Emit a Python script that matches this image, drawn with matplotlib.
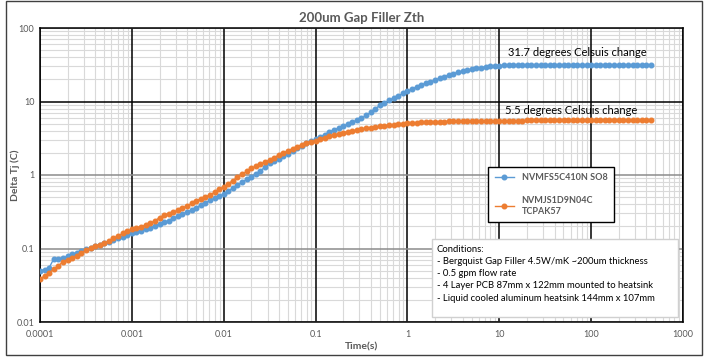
import matplotlib
matplotlib.use("Agg")
import matplotlib.pyplot as plt
from matplotlib.patches import Rectangle
from matplotlib.ticker import LogLocator, NullFormatter

plt.rcParams['font.family'] = ['Lato', 'DejaVu Sans']

# time samples: 20 per decade from 1e-4 s up to ~450 s
mantissa = [1.0, 1.12, 1.26, 1.41, 1.58, 1.78, 2.0, 2.24, 2.51, 2.82,
            3.16, 3.55, 3.98, 4.47, 5.01, 5.62, 6.31, 7.08, 7.94, 8.91]
time_s = [m * 10.0 ** e for e in range(-4, 3) for m in mantissa][:134]

# NVMFS5C410N SO8 (blue)
so8 = [0.050, 0.051, 0.055, 0.072, 0.073, 0.075, 0.078, 0.083, 0.088, 0.092,
       0.097, 0.102, 0.107, 0.112, 0.118, 0.124, 0.130, 0.137, 0.145, 0.152,
       0.160, 0.168, 0.175, 0.183, 0.192, 0.203, 0.215, 0.227, 0.240, 0.257,
       0.275, 0.293, 0.313, 0.335, 0.360, 0.388, 0.418, 0.450, 0.482, 0.515,
       0.550, 0.605, 0.665, 0.73, 0.80, 0.875, 0.95, 1.03, 1.14, 1.28,
       1.44, 1.55, 1.67, 1.80, 1.93, 2.1, 2.3, 2.5, 2.7, 2.88,
       3.06, 3.3, 3.55, 3.85, 4.1, 4.35, 4.6, 4.9, 5.2, 5.55,
       5.9, 6.5, 7.1, 7.9, 8.9, 9.6, 10.4, 11.2, 12.0, 12.9,
       13.8, 14.8, 15.8, 16.8, 17.7, 18.6, 19.5, 20.7, 21.8, 22.9,
       24.0, 24.9, 25.8, 26.7, 27.5, 28.3, 29.0, 29.6, 30.1, 30.5,
       30.8, 31.0, 31.2, 31.3, 31.4, 31.5, 31.5, 31.6, 31.6, 31.6,
       31.6, 31.6, 31.7, 31.7, 31.7, 31.7, 31.7, 31.7, 31.7, 31.7,
       31.7, 31.7, 31.7, 31.7, 31.7, 31.7, 31.7, 31.7, 31.7, 31.7,
       31.7, 31.7, 31.7, 31.7]

# NVMJS1D9N04C TCPAK57 (orange)
tcpak = [0.039, 0.042, 0.047, 0.052, 0.058, 0.066, 0.070, 0.074, 0.080, 0.087,
         0.094, 0.101, 0.108, 0.113, 0.118, 0.127, 0.138, 0.149, 0.160, 0.171,
         0.182, 0.190, 0.199, 0.208, 0.220, 0.238, 0.262, 0.285, 0.298, 0.312,
         0.330, 0.354, 0.380, 0.410, 0.445, 0.475, 0.505, 0.535, 0.58, 0.635,
         0.69, 0.76, 0.84, 0.93, 1.02, 1.12, 1.23, 1.32, 1.41, 1.50,
         1.60, 1.73, 1.87, 2.0, 2.14, 2.28, 2.43, 2.58, 2.75, 2.84,
         2.93, 3.06, 3.2, 3.35, 3.5, 3.64, 3.77, 3.88, 3.98, 4.09,
         4.2, 4.3, 4.4, 4.5, 4.6, 4.68, 4.76, 4.84, 4.91, 4.98,
         5.05, 5.1, 5.14, 5.18, 5.22, 5.26, 5.29, 5.32, 5.34, 5.36,
         5.38, 5.40, 5.42, 5.43, 5.44, 5.45, 5.46, 5.47, 5.48, 5.49,
         5.5, 5.5, 5.5, 5.5, 5.5, 5.5, 5.52, 5.52, 5.52, 5.52,
         5.52, 5.52, 5.52, 5.52, 5.52, 5.52, 5.52, 5.52, 5.52, 5.52,
         5.52, 5.52, 5.52, 5.52, 5.52, 5.52, 5.52, 5.52, 5.52, 5.52,
         5.52, 5.52, 5.52, 5.52]

label_so8 = "NVMFS5C410N SO8"
label_tcpak = "NVMJS1D9N04C\nTCPAK57"
conditions = ("Conditions:\n"
              "- Bergquist Gap Filler 4.5W/mK ~200um thickness\n"
              "- 0.5 gpm flow rate\n"
              "- 4 Layer PCB 87mm x 122mm mounted to heatsink\n"
              "- Liquid cooled aluminum heatsink 144mm x 107mm")
x_ticks = [1e-4, 1e-3, 1e-2, 1e-1, 1, 10, 100, 1000]
x_ticklabels = ['0.0001', '0.001', '0.01', '0.1', '1', '10', '100', '1000']
y_ticks = [0.01, 0.1, 1, 10, 100]
y_ticklabels = ['0.01', '0.1', '1', '10', '100']
grey = '#595959'

fig = plt.figure(figsize=(7.1, 3.59), dpi=100)
ax = fig.add_axes([40 / 710, 1 - 322 / 359, 643 / 710, 294 / 359])

ax.plot(time_s, so8, color='#5B9BD5', lw=1, marker='o', ms=3.3, label=label_so8, zorder=3)
ax.plot(time_s, tcpak, color='#ED7D31', lw=1, marker='o', ms=3.3, label=label_tcpak, zorder=3)

ax.set_xscale('log')
ax.set_yscale('log')
ax.set_xlim(1e-4, 1000)
ax.set_ylim(0.01, 100)
ax.set_xticks(x_ticks)
ax.set_xticklabels(x_ticklabels)
ax.set_yticks(y_ticks)
ax.set_yticklabels(y_ticklabels)
ax.xaxis.set_minor_locator(LogLocator(base=10, subs=range(2, 10), numticks=20))
ax.yaxis.set_minor_locator(LogLocator(base=10, subs=range(2, 10), numticks=20))
ax.xaxis.set_minor_formatter(NullFormatter())
ax.yaxis.set_minor_formatter(NullFormatter())
ax.tick_params(which='both', length=0, labelsize=6.5, labelcolor=grey)
ax.tick_params(axis='x', pad=6)
ax.tick_params(axis='y', pad=4)

# light minor grid underneath, decade lines drawn on top of it
ax.set_axisbelow(True)
ax.grid(which='minor', color='#d9d9d9', lw=0.8)
for xv in x_ticks:
    ax.axvline(xv, color='black', lw=1.1, zorder=1)
for yv in y_ticks:
    ax.axhline(yv, color='black' if yv == 10 else '#8c8c8c', lw=1.1, zorder=1)
for s in ax.spines.values():
    s.set_color('black')
    s.set_linewidth(1.1)

ax.set_title("200um Gap Filler Zth", fontsize=9.5, fontweight='bold', color=grey, pad=4)
ax.set_xlabel("Time(s)", fontsize=7.5, fontweight='bold', color=grey, labelpad=2)
fig.text(15 / 710, 1 - 175 / 359, "Delta Tj (C)", rotation=90, fontsize=7.5,
         fontweight='bold', color=grey, ha='center', va='center')

ax.text(71.5, 45.7, "31.7 degrees Celsuis change", fontsize=8, ha='center', va='center')
ax.text(60.7, 7.43, "5.5 degrees Celsuis change", fontsize=8, ha='center', va='center')

leg = ax.legend(loc='upper left', bbox_to_anchor=(0.69, 0.544), fancybox=False,
                framealpha=1, edgecolor='black', labelspacing=1.6,
                handlelength=2.2, borderpad=0.7, prop={'weight': 'bold', 'size': 6.5})
leg.get_frame().set_linewidth(1.0)
for txt in leg.get_texts():
    txt.set_color(grey)
leg.set_zorder(5)

ax.add_patch(Rectangle((0.6096, 0.017), 0.3824, 0.265, transform=ax.transAxes,
                       facecolor='white', edgecolor='#d0d0d0', lw=1, zorder=6))
ax.text(0.617, 0.262, conditions, transform=ax.transAxes, fontsize=6.8,
        ha='left', va='top', linespacing=1.45, zorder=7)

fig.add_artist(Rectangle((6 / 710, 4 / 359), 696 / 710, 354 / 359, transform=fig.transFigure,
                         fill=False, edgecolor='#404040', lw=1))

fig.savefig("out.png", dpi=100)
